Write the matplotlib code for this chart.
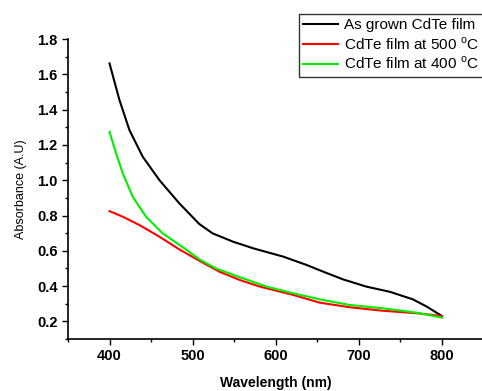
import matplotlib.pyplot as plt
import numpy as np

plt.rcParams['font.family'] = ['Liberation Sans', 'DejaVu Sans']
plt.rcParams['mathtext.fontset'] = 'custom'
plt.rcParams['mathtext.rm'] = 'Liberation Sans'

# data
wl_grown = [400, 412, 424, 440, 460, 484, 508, 524, 549, 573, 609, 637, 657, 681, 709, 737, 765, 782, 800]
abs_grown = [1.662, 1.454, 1.284, 1.133, 1.001, 0.869, 0.752, 0.699, 0.651, 0.614, 0.567, 0.52, 0.482,
             0.438, 0.397, 0.368, 0.325, 0.283, 0.23]

wl_400 = [400, 408, 416, 428, 444, 464, 492, 508, 528, 557, 589, 621, 657, 689, 729, 770, 800]
abs_400 = [1.275, 1.152, 1.039, 0.906, 0.793, 0.699, 0.608, 0.552, 0.50, 0.45, 0.397, 0.359, 0.321,
           0.293, 0.274, 0.249, 0.221]

wl_500 = [400, 416, 436, 460, 484, 508, 532, 557, 581, 621, 653, 689, 729, 770, 800]
abs_500 = [0.825, 0.793, 0.746, 0.68, 0.608, 0.544, 0.482, 0.434, 0.397, 0.35, 0.306, 0.28, 0.26,
           0.246, 0.23]

fig = plt.figure(figsize=(4.82, 3.91), dpi=100)
ax = fig.add_axes([0.141, 0.133, 0.862, 0.767])

ax.plot(wl_grown, abs_grown, color='black', lw=1.5, label='As grown CdTe film')
ax.plot(wl_500, abs_500, color='#ff0000', lw=1.5, label='CdTe film at 500 $^\\mathregular{o}$C')
ax.plot(wl_400, abs_400, color='#00ee00', lw=1.5, label='CdTe film at 400 $^\\mathregular{o}$C')

ax.set_xlim(350, 850)
ax.set_ylim(0.1, 1.8)
ax.set_xticks([400, 500, 600, 700, 800])
ax.set_xticks(np.arange(350, 851, 50), minor=True)
ax.set_yticks([0.2, 0.4, 0.6, 0.8, 1.0, 1.2, 1.4, 1.6, 1.8])
ax.set_yticks(np.arange(0.1, 1.81, 0.1), minor=True)
ax.set_yticklabels(['0.2', '0.4', '0.6', '0.8', '1.0', '1.2', '1.4', '1.6', '1.8'])
ax.tick_params(which='both', direction='out', width=1)
ax.tick_params(which='major', length=4, labelsize=10.5)
ax.tick_params(which='minor', length=2.5)
for lbl in ax.get_xticklabels() + ax.get_yticklabels():
    lbl.set_fontweight('bold')

ax.spines['top'].set_visible(False)
ax.spines['right'].set_visible(False)
ax.spines['left'].set_linewidth(1.2)
ax.spines['bottom'].set_linewidth(1.2)

ax.set_xlabel('Wavelength (nm)', fontsize=10, fontweight='bold', labelpad=9)
ax.set_ylabel('Absorbance (A.U)', fontsize=9, labelpad=7)

leg = fig.legend(loc='upper left', bbox_to_anchor=(0.604, 0.984), fontsize=11,
                 frameon=True, fancybox=False, edgecolor='black', handlelength=2.3,
                 handletextpad=0.35, borderpad=0.3, labelspacing=0.2)
leg.get_frame().set_linewidth(1)

fig.savefig('out.png', dpi=100)
